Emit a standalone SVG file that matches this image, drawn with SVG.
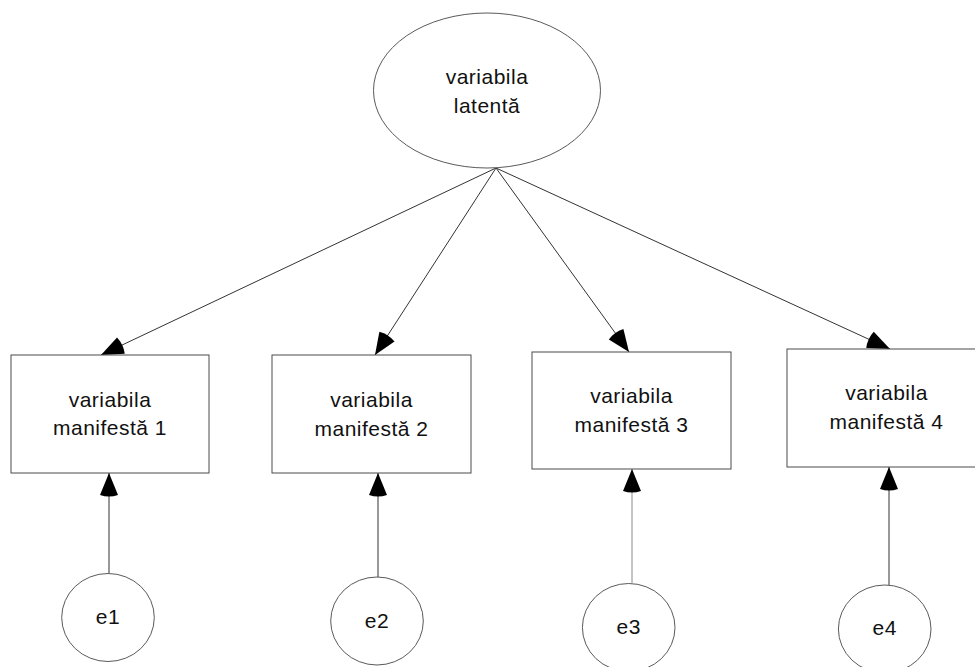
<svg xmlns="http://www.w3.org/2000/svg" width="975" height="667" viewBox="0 0 975 667">
<style>
.bg{fill:#ffffff}
.box{fill:#ffffff;stroke:#4a4a4a;stroke-width:1}
.ell{fill:#ffffff;stroke:#5a5a5a;stroke-width:1}
.lbl{font-family:"Liberation Sans",Arial,sans-serif;font-size:21px;letter-spacing:0.5px;fill:#111;text-anchor:middle}
.con{fill:none;stroke:#333;stroke-width:1;marker-end:url(#ah)}
.con.light{stroke:#8a8a8a}
</style>
<defs>
<marker id="ah" markerUnits="userSpaceOnUse" markerWidth="28" markerHeight="22" viewBox="-4 0 28 18" refX="22" refY="9" orient="auto">
<path d="M0,0 L22,9 L0,18 Q-3,9 0,0 z" fill="#000"/>
</marker>
</defs>
<rect class="bg" x="0" y="0" width="975" height="667"/>
<g id="connectors">
<line class="con" x1="496" y1="168" x2="101" y2="355"/>
<line class="con" x1="496" y1="168" x2="375" y2="355"/>
<line class="con" x1="496" y1="168" x2="629" y2="352"/>
<line class="con" x1="496" y1="168" x2="890" y2="349"/>
<line class="con" x1="109" y1="573" x2="109" y2="473"/>
<line class="con" x1="378" y1="577" x2="378" y2="473"/>
<line class="con light" x1="632" y1="583" x2="632" y2="469"/>
<line class="con" x1="889" y1="585" x2="889" y2="467"/>
</g>
<g id="latent">
<ellipse class="ell" cx="487" cy="90.5" rx="113.5" ry="77.5"/>
<text class="lbl" x="487" y="84">variabila</text>
<text class="lbl" x="487" y="112.5">latentă</text>
</g>
<g id="m1">
<rect class="box" x="11" y="355" width="198" height="118"/>
<text class="lbl" x="110" y="407">variabila</text>
<text class="lbl" x="110" y="435">manifestă 1</text>
</g>
<g id="m2">
<rect class="box" x="272" y="355" width="199" height="118"/>
<text class="lbl" x="371.5" y="407">variabila</text>
<text class="lbl" x="371.5" y="436">manifestă 2</text>
</g>
<g id="m3">
<rect class="box" x="532" y="352" width="199" height="117"/>
<text class="lbl" x="631.5" y="403">variabila</text>
<text class="lbl" x="631.5" y="432">manifestă 3</text>
</g>
<g id="m4">
<rect class="box" x="787" y="349" width="199" height="118"/>
<text class="lbl" x="886.5" y="400">variabila</text>
<text class="lbl" x="886.5" y="429">manifestă 4</text>
</g>
<g id="e1">
<ellipse class="ell" cx="108" cy="617.5" rx="46.3" ry="44"/>
<text class="lbl" x="108" y="624">e1</text>
</g>
<g id="e2">
<ellipse class="ell" cx="377" cy="621" rx="46.3" ry="44"/>
<text class="lbl" x="377" y="628">e2</text>
</g>
<g id="e3">
<ellipse class="ell" cx="628.7" cy="627.5" rx="46.3" ry="44"/>
<text class="lbl" x="628.7" y="634">e3</text>
</g>
<g id="e4">
<ellipse class="ell" cx="884.7" cy="629" rx="46.3" ry="44"/>
<text class="lbl" x="884.7" y="635">e4</text>
</g>
</svg>
